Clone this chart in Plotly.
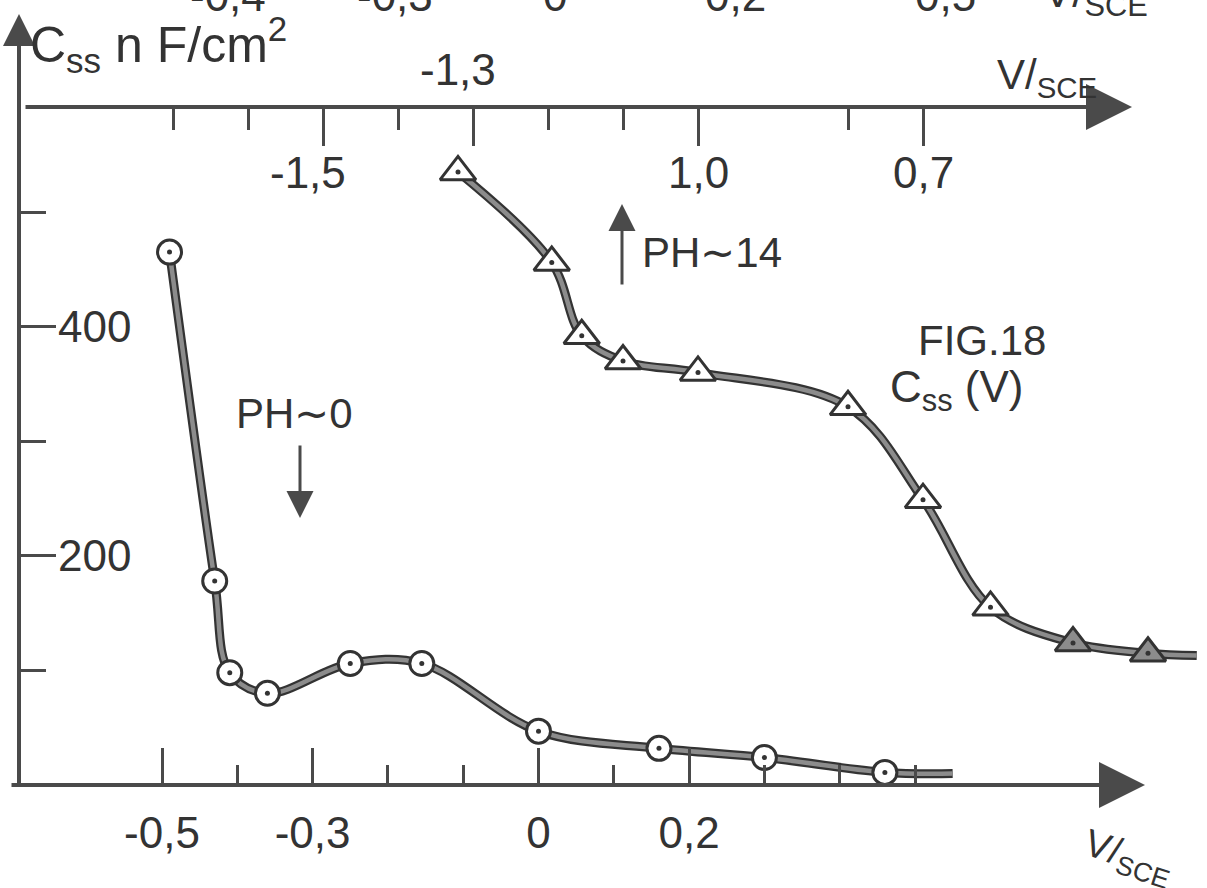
import plotly.graph_objects as go

# ---- data -------------------------------------------------------------
# pH ~ 0 branch, read against the lower potential scale (V/SCE)
ph0_v = [-0.49, -0.43, -0.41, -0.36, -0.25, -0.155, 0.0, 0.16, 0.30, 0.46]
ph0_c = [465, 178, 98, 80, 106, 106, 47, 32, 24, 11]
ph0_tail_v = [0.55]
ph0_tail_c = [10]

# pH ~ 14 branch, read against the upper potential scale (V/SCE)
ph14_v = [-1.32, -1.195, -1.155, -1.10, -1.0, -0.80, -0.70, -0.61, -0.50, -0.40]
ph14_c = [535, 456, 392, 370, 360, 330, 249, 155, 124, 115]
ph14_tail_v = [-0.335]
ph14_tail_c = [113]

bottom_major = [-0.5, -0.3, 0.0, 0.2]
bottom_major_text = ["-0,5", "-0,3", "0", "0,2"]
bottom_minor = [-0.4, -0.2, -0.1, 0.1, 0.3, 0.4, 0.5]

top_major = [-1.5, -1.3, -1.0, -0.7]
top_major_text = ["-1,5", "-1,3", "1,0", "0,7"]
top_minor = [-1.7, -1.6, -1.4, -1.2, -1.1, -0.8]

c_major = [200, 400]
c_major_text = ["200", "400"]
c_minor = [100, 300, 500]

# scale fragment from the figure above, cut by the page edge
upper_frag_text = ["-0,4", "-0,3", "0", "0,2", "0,5", "V/<sub>SCE</sub>"]
upper_frag_x = [228, 395, 555, 735, 945, 1095]

# ---- styling ----------------------------------------------------------
W, H = 1207, 888
INK = "#333333"
GREY = "#8c8c8c"
AXIS = "#4a4a4a"
FONT = "Liberation Sans"

X0_PX, PX_PER_V = 538.5, 753.0          # lower scale
X2_REF_V, X2_REF_PX, PX2_PER_V = -1.3, 473.0, 750.0   # upper scale
Y0_PX, PX_PER_C = 785.0, 1.146          # capacitance scale
TOP_AXIS_PX = 107.0
Y_AXIS_PX = 19.0


def px_to_paper_y(py):
    return (H - py) / H


fig = go.Figure()


def add_branch(xs, ys, tail_x, tail_y, symbol, size, xaxis, fills):
    lx = xs + tail_x
    ly = ys + tail_y
    fig.add_trace(go.Scatter(x=lx, y=ly, xaxis=xaxis, mode="lines",
                             line=dict(shape="spline", smoothing=1.0, color=INK, width=9),
                             hoverinfo="skip", showlegend=False))
    fig.add_trace(go.Scatter(x=lx, y=ly, xaxis=xaxis, mode="lines",
                             line=dict(shape="spline", smoothing=1.0, color=GREY, width=4.5),
                             hoverinfo="skip", showlegend=False))
    fig.add_trace(go.Scatter(x=xs, y=ys, xaxis=xaxis, mode="markers",
                             marker=dict(symbol=symbol, size=size, color=fills,
                                         line=dict(color=INK, width=3)),
                             showlegend=False, cliponaxis=False))
    fig.add_trace(go.Scatter(x=xs, y=ys, xaxis=xaxis, mode="markers",
                             marker=dict(symbol="circle", size=5, color=INK),
                             hoverinfo="skip", showlegend=False, cliponaxis=False))


add_branch(ph0_v, ph0_c, ph0_tail_v, ph0_tail_c, "circle", 24, "x",
           ["white"] * len(ph0_v))
add_branch(ph14_v, ph14_c, ph14_tail_v, ph14_tail_c, "triangle-up", 31, "x2",
           ["white"] * (len(ph14_v) - 2) + [GREY] * 2)

tick_common = dict(tickcolor=AXIS, tickwidth=3)

fig.update_layout(
    width=W, height=H,
    margin=dict(l=0, r=0, t=0, b=0),
    paper_bgcolor="white", plot_bgcolor="white",
    font=dict(family=FONT, color=INK, size=44),
    xaxis=dict(
        domain=[0, 1],
        range=[(0 - X0_PX) / PX_PER_V, (W - X0_PX) / PX_PER_V],
        anchor="y", showline=False, showgrid=False, zeroline=False,
        tickmode="array", tickvals=bottom_major, ticktext=bottom_major_text,
        ticks="inside", ticklen=37, ticklabelstandoff=18,
        tickfont=dict(family=FONT, size=44, color=INK),
        minor=dict(tickmode="array", tickvals=bottom_minor, ticks="inside",
                   ticklen=20, **tick_common),
        **tick_common,
    ),
    xaxis2=dict(
        overlaying="x", side="top", anchor="free",
        position=px_to_paper_y(TOP_AXIS_PX),
        range=[X2_REF_V + (0 - X2_REF_PX) / PX2_PER_V,
               X2_REF_V + (W - X2_REF_PX) / PX2_PER_V],
        showline=False, showgrid=False, zeroline=False,
        tickmode="array", tickvals=top_major, showticklabels=False,
        ticks="inside", ticklen=38,
        minor=dict(tickmode="array", tickvals=top_minor, ticks="inside",
                   ticklen=22, **tick_common),
        **tick_common,
    ),
    yaxis=dict(
        domain=[px_to_paper_y(Y0_PX), 1],
        range=[0, Y0_PX / PX_PER_C],
        anchor="free", position=Y_AXIS_PX / W,
        showline=False, showgrid=False, zeroline=False,
        tickmode="array", tickvals=c_major, showticklabels=False,
        ticks="inside", ticklen=36,
        minor=dict(tickmode="array", tickvals=c_minor, ticks="inside",
                   ticklen=26, **tick_common),
        **tick_common,
    ),
)

ann = []


def arrow(tip_x, tip_y, dx, dy, width=4, size=1.6, head=2):
    ann.append(dict(x=tip_x / W, y=px_to_paper_y(tip_y), xref="paper", yref="paper",
                    ax=dx, ay=dy, axref="pixel", ayref="pixel", text="",
                    showarrow=True, arrowhead=head, arrowsize=size,
                    arrowwidth=width, arrowcolor=AXIS, standoff=0))


# axis lines with arrow heads
arrow(Y_AXIS_PX, 14, 0, Y0_PX - 14 + 2, width=4, size=1.6)
arrow(1145, Y0_PX, -(1145 - 10), 0, width=4, size=2.3)
arrow(1132, TOP_AXIS_PX, -(1132 - 24), 0, width=4, size=2.3)

# pH markers
arrow(622, 204, 0, 82, width=3, size=1.8)
arrow(300, 518, 0, -74, width=3, size=1.8)

# capacitance tick labels
for v, t in zip(c_major, c_major_text):
    ann.append(dict(x=56 / W, y=v, xref="paper", yref="y", text=t,
                    showarrow=False, xanchor="left", yanchor="middle",
                    font=dict(size=44)))

# upper-scale tick labels (the -1,3 label sits above the line)
for v, t in zip(top_major, top_major_text):
    above = (v == -1.3)
    ann.append(dict(x=v - (0.02 if t.startswith("-") else 0.0), xref="x2",
                    y=px_to_paper_y(70 if above else 172), yref="paper",
                    text=t, showarrow=False, xanchor="center", yanchor="middle",
                    font=dict(size=44)))

# cut-off scale fragment at the top edge
for x, t in zip(upper_frag_x, upper_frag_text):
    ann.append(dict(x=x / W, y=px_to_paper_y(-5), xref="paper", yref="paper",
                    text=t, showarrow=False, xanchor="center", yanchor="middle",
                    font=dict(size=44)))

texts = [
    (28, 44, "C<sub>ss</sub> n F/cm<sup>2</sup>", "left", 50, 0),
    (995, 78, "V/<sub>SCE</sub>", "left", 42, 0),
    (640, 252, "PH∼14", "left", 42, 0),
    (234, 413, "PH∼0", "left", 42, 0),
    (982, 340, "FIG.18", "center", 42, 0),
    (888, 390, "C<sub>ss</sub> (V)", "left", 44, 0),
    (1128, 858, "V/<sub>SCE</sub>", "center", 38, 18),
]
for x, y, t, xa, fs, rot in texts:
    ann.append(dict(x=x / W, y=px_to_paper_y(y), xref="paper", yref="paper",
                    text=t, showarrow=False, xanchor=xa, yanchor="middle",
                    textangle=rot, font=dict(size=fs)))

fig.update_layout(annotations=ann)

fig.write_html("out.html")
